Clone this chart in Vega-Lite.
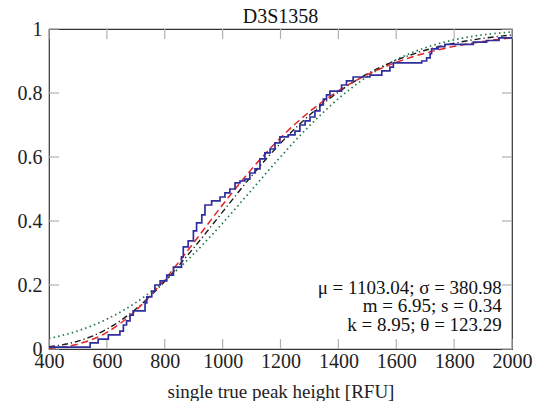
{
  "$schema": "https://vega.github.io/schema/vega-lite/v6.json",
  "width": 463,
  "height": 320,
  "autosize": {"type": "none"},
  "padding": {"left": 49, "top": 29, "right": 34, "bottom": 52},
  "background": "white",
  "title": {"text": "D3S1358", "font": "Liberation Serif", "fontSize": 20, "fontWeight": "normal", "color": "#111", "offset": -8, "anchor": "middle"},
  "config": {
    "view": {"stroke": "#333", "strokeWidth": 1.2},
    "axis": {"grid": false, "domain": false, "labelFont": "Liberation Serif", "titleFont": "Liberation Serif", "labelColor": "#222", "titleColor": "#222", "titleFontWeight": "normal", "labelOverlap": false, "labelFlush": false}
  },
  "datasets": {
    "ticks": [
      {"axis": "x", "v": 400}, {"axis": "x", "v": 600}, {"axis": "x", "v": 800}, {"axis": "x", "v": 1000}, {"axis": "x", "v": 1200}, {"axis": "x", "v": 1400}, {"axis": "x", "v": 1600}, {"axis": "x", "v": 1800}, {"axis": "x", "v": 2000},
      {"axis": "y", "v": 0}, {"axis": "y", "v": 0.2}, {"axis": "y", "v": 0.4}, {"axis": "y", "v": 0.6}, {"axis": "y", "v": 0.8}, {"axis": "y", "v": 1}
    ],
    "theory": [
      {"x": 400, "F": 0.0325, "d": "normal"}, {"x": 500, "F": 0.0567, "d": "normal"}, {"x": 600, "F": 0.0934, "d": "normal"}, {"x": 700, "F": 0.145, "d": "normal"}, {"x": 800, "F": 0.2132, "d": "normal"}, {"x": 900, "F": 0.297, "d": "normal"}, {"x": 1000, "F": 0.3934, "d": "normal"}, {"x": 1100, "F": 0.4968, "d": "normal"}, {"x": 1200, "F": 0.6004, "d": "normal"}, {"x": 1300, "F": 0.6974, "d": "normal"}, {"x": 1400, "F": 0.7822, "d": "normal"}, {"x": 1500, "F": 0.8513, "d": "normal"}, {"x": 1600, "F": 0.9039, "d": "normal"}, {"x": 1700, "F": 0.9414, "d": "normal"}, {"x": 1800, "F": 0.9663, "d": "normal"}, {"x": 1900, "F": 0.9818, "d": "normal"}, {"x": 2000, "F": 0.9907, "d": "normal"},
      {"x": 400, "F": 0.0024, "d": "lognormal"}, {"x": 500, "F": 0.0153, "d": "lognormal"}, {"x": 600, "F": 0.0519, "d": "lognormal"}, {"x": 700, "F": 0.1204, "d": "lognormal"}, {"x": 800, "F": 0.2175, "d": "lognormal"}, {"x": 900, "F": 0.3321, "d": "lognormal"}, {"x": 1000, "F": 0.4506, "d": "lognormal"}, {"x": 1100, "F": 0.5621, "d": "lognormal"}, {"x": 1200, "F": 0.6599, "d": "lognormal"}, {"x": 1300, "F": 0.7413, "d": "lognormal"}, {"x": 1400, "F": 0.8066, "d": "lognormal"}, {"x": 1500, "F": 0.8573, "d": "lognormal"}, {"x": 1600, "F": 0.8958, "d": "lognormal"}, {"x": 1700, "F": 0.9246, "d": "lognormal"}, {"x": 1800, "F": 0.9457, "d": "lognormal"}, {"x": 1900, "F": 0.9611, "d": "lognormal"}, {"x": 2000, "F": 0.9722, "d": "lognormal"},
      {"x": 400, "F": 0.0069, "d": "gamma"}, {"x": 500, "F": 0.0245, "d": "gamma"}, {"x": 600, "F": 0.062, "d": "gamma"}, {"x": 700, "F": 0.1249, "d": "gamma"}, {"x": 800, "F": 0.2114, "d": "gamma"}, {"x": 900, "F": 0.3158, "d": "gamma"}, {"x": 1000, "F": 0.4284, "d": "gamma"}, {"x": 1100, "F": 0.5407, "d": "gamma"}, {"x": 1200, "F": 0.6429, "d": "gamma"}, {"x": 1300, "F": 0.7307, "d": "gamma"}, {"x": 1400, "F": 0.8027, "d": "gamma"}, {"x": 1500, "F": 0.8596, "d": "gamma"}, {"x": 1600, "F": 0.9021, "d": "gamma"}, {"x": 1700, "F": 0.9335, "d": "gamma"}, {"x": 1800, "F": 0.9555, "d": "gamma"}, {"x": 1900, "F": 0.9709, "d": "gamma"}, {"x": 2000, "F": 0.9813, "d": "gamma"}
    ],
    "ecdf": [
      {"x": 400, "F": 0.006}, {"x": 542, "F": 0.019}, {"x": 570, "F": 0.031}, {"x": 605, "F": 0.044}, {"x": 645, "F": 0.056}, {"x": 657, "F": 0.075}, {"x": 668, "F": 0.088}, {"x": 680, "F": 0.106}, {"x": 691, "F": 0.119}, {"x": 732, "F": 0.144}, {"x": 738, "F": 0.163}, {"x": 755, "F": 0.181}, {"x": 766, "F": 0.2}, {"x": 784, "F": 0.213}, {"x": 807, "F": 0.231}, {"x": 830, "F": 0.256}, {"x": 858, "F": 0.288}, {"x": 864, "F": 0.319}, {"x": 881, "F": 0.338}, {"x": 899, "F": 0.369}, {"x": 910, "F": 0.394}, {"x": 928, "F": 0.419}, {"x": 939, "F": 0.45}, {"x": 962, "F": 0.463}, {"x": 991, "F": 0.475}, {"x": 1008, "F": 0.488}, {"x": 1025, "F": 0.5}, {"x": 1043, "F": 0.519}, {"x": 1060, "F": 0.525}, {"x": 1077, "F": 0.531}, {"x": 1094, "F": 0.55}, {"x": 1112, "F": 0.563}, {"x": 1129, "F": 0.594}, {"x": 1146, "F": 0.613}, {"x": 1164, "F": 0.625}, {"x": 1181, "F": 0.644}, {"x": 1198, "F": 0.663}, {"x": 1227, "F": 0.669}, {"x": 1250, "F": 0.681}, {"x": 1267, "F": 0.7}, {"x": 1285, "F": 0.713}, {"x": 1302, "F": 0.725}, {"x": 1319, "F": 0.744}, {"x": 1336, "F": 0.763}, {"x": 1348, "F": 0.781}, {"x": 1359, "F": 0.794}, {"x": 1371, "F": 0.806}, {"x": 1411, "F": 0.825}, {"x": 1428, "F": 0.838}, {"x": 1451, "F": 0.85}, {"x": 1509, "F": 0.856}, {"x": 1550, "F": 0.869}, {"x": 1578, "F": 0.881}, {"x": 1590, "F": 0.894}, {"x": 1688, "F": 0.9}, {"x": 1705, "F": 0.91}, {"x": 1717, "F": 0.923}, {"x": 1722, "F": 0.938}, {"x": 1745, "F": 0.945}, {"x": 1768, "F": 0.952}, {"x": 1866, "F": 0.959}, {"x": 1912, "F": 0.964}, {"x": 1955, "F": 0.972}, {"x": 2000, "F": 0.975}
    ],
    "notes": [
      {"x": 1965, "y": 0.192, "label": "μ = 1103.04; σ = 380.98"},
      {"x": 1965, "y": 0.135, "label": "m = 6.95; s = 0.34"},
      {"x": 1965, "y": 0.076, "label": "k = 8.95; θ = 123.29"}
    ]
  },
  "layer": [
    {
      "data": {"name": "ticks"},
      "transform": [{"filter": "datum.axis === 'x'"}],
      "mark": {"type": "rule", "color": "#b0b0b0", "strokeWidth": 1.2},
      "encoding": {
        "x": {"field": "v", "type": "quantitative", "scale": {"domain": [400, 2000], "nice": false, "zero": false}, "axis": null},
        "y": {"datum": 0, "type": "quantitative", "scale": {"domain": [0, 1], "nice": false}, "axis": null},
        "y2": {"datum": 0.031}
      }
    },
    {
      "data": {"name": "ticks"},
      "transform": [{"filter": "datum.axis === 'x'"}],
      "mark": {"type": "rule", "color": "#b0b0b0", "strokeWidth": 1.2},
      "encoding": {
        "x": {"field": "v", "type": "quantitative", "axis": null},
        "y": {"datum": 1, "type": "quantitative", "axis": null},
        "y2": {"datum": 0.969}
      }
    },
    {
      "data": {"name": "ticks"},
      "transform": [{"filter": "datum.axis === 'y'"}],
      "mark": {"type": "rule", "color": "#b0b0b0", "strokeWidth": 1.2},
      "encoding": {
        "y": {"field": "v", "type": "quantitative", "axis": null},
        "x": {"datum": 400, "type": "quantitative", "axis": null},
        "x2": {"datum": 434.5}
      }
    },
    {
      "data": {"name": "ticks"},
      "transform": [{"filter": "datum.axis === 'y'"}],
      "mark": {"type": "rule", "color": "#b0b0b0", "strokeWidth": 1.2},
      "encoding": {
        "y": {"field": "v", "type": "quantitative", "axis": null},
        "x": {"datum": 2000, "type": "quantitative", "axis": null},
        "x2": {"datum": 1965.5}
      }
    },
    {
      "data": {"name": "theory"},
      "transform": [{"filter": "datum.d === 'normal'"}],
      "mark": {"type": "line", "color": "#1f7a40", "strokeWidth": 1.7, "strokeDash": [1.5, 3.2], "interpolate": "monotone", "clip": true},
      "encoding": {
        "x": {"field": "x", "type": "quantitative", "axis": null},
        "y": {"field": "F", "type": "quantitative", "axis": null}
      }
    },
    {
      "data": {"name": "theory"},
      "transform": [{"filter": "datum.d === 'gamma'"}],
      "mark": {"type": "line", "color": "#1a1a1a", "strokeWidth": 1.4, "strokeDash": [6, 3, 1.2, 3], "interpolate": "monotone", "clip": true},
      "encoding": {
        "x": {"field": "x", "type": "quantitative", "axis": null},
        "y": {"field": "F", "type": "quantitative", "axis": null}
      }
    },
    {
      "data": {"name": "theory"},
      "transform": [{"filter": "datum.d === 'lognormal'"}],
      "mark": {"type": "line", "color": "#e42222", "strokeWidth": 1.5, "strokeDash": [7, 4], "interpolate": "monotone", "clip": true},
      "encoding": {
        "x": {"field": "x", "type": "quantitative", "axis": null},
        "y": {"field": "F", "type": "quantitative", "axis": null}
      }
    },
    {
      "data": {"name": "ecdf"},
      "mark": {"type": "line", "color": "#2e2e9e", "strokeWidth": 1.7, "interpolate": "step-after", "clip": true},
      "encoding": {
        "x": {"field": "x", "type": "quantitative", "axis": {"orient": "bottom", "ticks": false, "values": [400, 600, 800, 1000, 1200, 1400, 1600, 1800, 2000], "format": "d", "labelFontSize": 20, "labelPadding": 2, "title": "single true peak height [RFU]", "titleFontSize": 19, "titlePadding": 11}},
        "y": {"field": "F", "type": "quantitative", "axis": {"orient": "left", "ticks": false, "values": [0, 0.2, 0.4, 0.6, 0.8, 1], "format": "~g", "labelFontSize": 20, "labelPadding": 7, "title": null}}
      }
    },
    {
      "data": {"name": "notes"},
      "mark": {"type": "text", "align": "right", "baseline": "middle", "font": "Liberation Serif", "fontSize": 19, "color": "#111"},
      "encoding": {
        "x": {"field": "x", "type": "quantitative", "axis": null},
        "y": {"field": "y", "type": "quantitative", "axis": null},
        "text": {"field": "label"}
      }
    }
  ],
  "resolve": {"axis": {"x": "independent", "y": "independent"}}
}
